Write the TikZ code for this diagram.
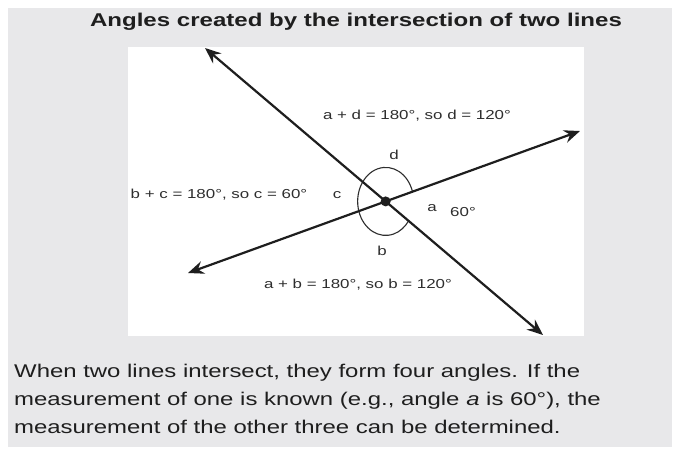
\documentclass[tikz,border=0pt]{standalone}
\usepackage{fontspec}
\setmainfont{Liberation Sans}
\newfontfamily\widebody[FakeStretch=1.3]{Liberation Sans}
\newfontfamily\widetitle[FakeStretch=1.3]{Liberation Sans}
\newfontfamily\widelab[FakeStretch=1.3]{Liberation Sans}
\usetikzlibrary{arrows.meta}
\definecolor{panel}{HTML}{E8E8EA}
\definecolor{ink}{HTML}{1E1E1E}
\definecolor{lab}{HTML}{2E2E2E}
\tikzset{
  ray/.style={line width=2.2pt, ink, {Stealth[length=16pt,width=13pt,inset=5.5pt]}-{Stealth[length=16pt,width=13pt,inset=5.5pt]}},
  anglearc/.style={line width=1.1pt, lab},
  lbl/.style={inner sep=0pt, text=lab, font=\widelab\fontsize{13}{15}\selectfont},
  body/.style={inner sep=0pt, anchor=base west, text=ink, font=\widebody\fontsize{18.4}{22}\selectfont},
  title/.style={inner sep=0pt, text=ink, font=\widetitle\bfseries\fontsize{18.5}{22}\selectfont}
}
\begin{document}
\begin{tikzpicture}[x=1pt,y=-1pt]
\useasboundingbox (0,0) rectangle (675,451);
\fill[white] (0,0) rectangle (675,451);
\fill[panel] (8,8) rectangle (672,447);
\fill[white] (128,47) rectangle (584,336);

\node[title] (title) at (356,22) {Angles created by the intersection of two lines};

\coordinate (NW) at (205,48);
\coordinate (SE) at (543,335);
\coordinate (SW) at (188,273);
\coordinate (NE) at (580,131);
\coordinate (O) at (intersection of NW--SE and SW--NE);

\draw[anglearc] (O) ++(-16.7:28 and 34) arc[start angle=-16.7, end angle=-325.4, x radius=28, y radius=34];
\draw[ray] (NW) -- (SE);
\draw[ray] (SW) -- (NE);
\fill[ink] (O) circle (5);

\node[lbl] (ad) at (417,116) {a + d = 180°, so d = 120°};
\node[lbl] (d) at (394,155) {d};
\node[lbl] (c) at (337,195) {c};
\node[lbl] (bc) at (219,195) {b + c = 180°, so c = 60°};
\node[lbl] (a) at (432,208) {a};
\node[lbl] (sixty) at (463,212) {60°};
\node[lbl] (b) at (382,251) {b};
\node[lbl] (ab) at (358,285) {a + b = 180°, so b = 120°};

\node[body] (t1) at (14,377) {When two lines intersect, they form four angles. If the};
\node[body] (t2) at (14,405) {measurement of one is known (e.g., angle \textit{a} is 60°), the};
\node[body] (t3) at (14,433) {measurement of the other three can be determined.};
\end{tikzpicture}
\end{document}
